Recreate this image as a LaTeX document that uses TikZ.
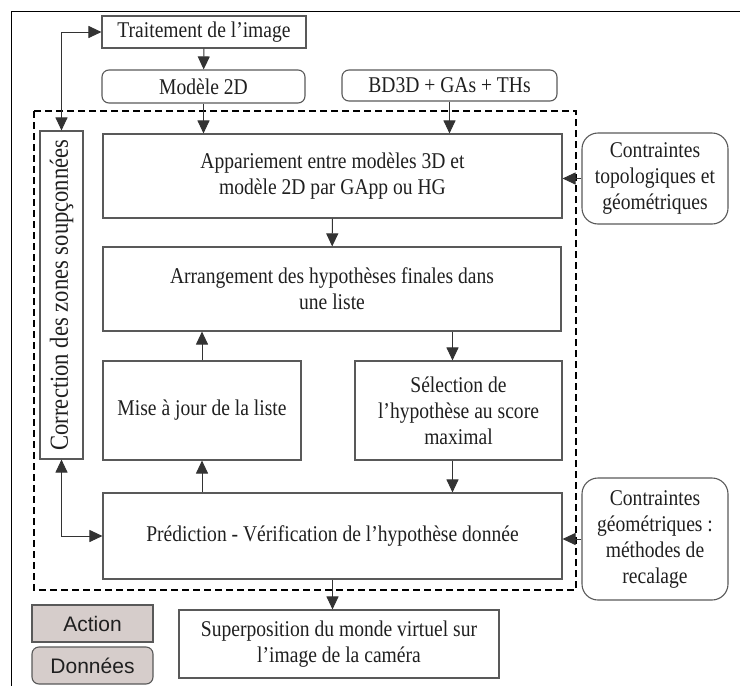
\documentclass[tikz,border=0pt]{standalone}
\usepackage{fontspec}
\setmainfont{Liberation Serif}[FakeStretch=0.87]
\setsansfont{Liberation Sans}
\usetikzlibrary{arrows.meta,positioning,calc}
\definecolor{legfill}{RGB}{214,205,203}

\begin{document}
\begin{tikzpicture}[
    x=1pt, y=-1pt,
    >={Triangle[length=13pt,width=12pt]},
    every node/.style={font=\fontsize{22.5}{26}\selectfont, text=black!88},
    abox/.style={draw=black!65, line width=1.1pt, inner sep=2pt, align=center},
    dbox/.style={abox, rounded corners=7pt},
    cbox/.style={abox, rounded corners=16pt},
    leg/.style={draw=black!65, line width=1.1pt, fill=legfill, minimum width=121pt, minimum height=37pt, font=\sffamily\fontsize{21}{24}\selectfont},
    link/.style={->, line width=1pt, black!80},
]
  \useasboundingbox (0,0) rectangle (740,686);
  % page frame (top and left edge)
  \draw[line width=1pt] (11,686) -- (11,11) -- (740,11);

  % inputs (top)
  \node[abox, minimum width=204pt, minimum height=32pt] (trait) at (204,32) {Traitement de l'image};
  \node[dbox, minimum width=203pt, minimum height=33pt] (mod2d) at (203.5,86.5) {Modèle 2D};
  \node[dbox, minimum width=215pt, minimum height=31pt] (bd3d) at (449.5,85.5) {BD3D + GAs + THs};

  % main loop (inside the dashed frame)
  \draw[dashed, dash pattern=on 7pt off 4pt, line width=1.3pt] (34,111) rectangle (576,590);
  \node[abox, minimum width=459pt, minimum height=84pt] (appar) at (332.5,176) {Appariement entre modèles 3D et\\modèle 2D par GApp ou HG};
  \node[abox, minimum width=458pt, minimum height=84pt] (arrang) at (332,289) {Arrangement des hypothèses finales dans\\une liste};
  \node[abox, minimum width=198pt, minimum height=99pt] (mise) at (202,410.5) {Mise à jour de la liste};
  \node[abox, minimum width=207pt, minimum height=99pt] (sel) at (458.5,410.5) {Sélection de\\l'hypothèse au score\\maximal};
  \node[abox, minimum width=459pt, minimum height=86pt] (predic) at (332.5,536) {Prédiction - Vérification de l'hypothèse donnée};
  \node[abox, minimum width=43pt, minimum height=328pt] (corr) at (61.5,295) {\rotatebox{90}{\fontsize{26}{28}\selectfont Correction des zones soupçonnées}};

  % constraints (right) and output (bottom)
  \node[cbox, minimum width=146pt, minimum height=91pt] (ctopo) at (655,178.5) {Contraintes\\topologiques et\\géométriques};
  \node[cbox, minimum width=146pt, minimum height=122pt] (cgeo) at (655,539) {Contraintes\\géométriques :\\méthodes de\\recalage};
  \node[abox, minimum width=320pt, minimum height=68pt] (superp) at (339,644) {Superposition du monde virtuel sur\\l'image de la caméra};

  % legend
  \node[leg] (lact) at (92.5,623.5) {Action};
  \node[leg, rounded corners=7pt] (ldon) at (92.5,665.5) {Données};

  % connections
  \draw[link] (trait) -- (mod2d);
  \draw[link] (mod2d.south) -- (mod2d.south |- appar.north);
  \draw[link] (bd3d.south) -- (bd3d.south |- appar.north);
  \draw[link] (appar) -- (arrang);
  \draw[link] ($(arrang.south -| sel)+(-6,0)$) -- ($(sel.north)+(-6,0)$);
  \draw[link] (mise) -- (mise |- arrang.south);
  \draw[link] (predic.north -| mise) -- (mise);
  \draw[link] ($(sel.south)+(-6,0)$) -- ($(sel.south |- predic.north)+(-6,0)$);
  \draw[link] (predic) -- (predic.south |- superp.north);
  \draw[link] (ctopo) -- (ctopo -| appar.east);
  \draw[link] (cgeo) -- (cgeo -| predic.east);
  \draw[link, <->] (corr) |- (trait);
  \draw[link, <->] (corr) |- (predic);
\end{tikzpicture}
\end{document}
